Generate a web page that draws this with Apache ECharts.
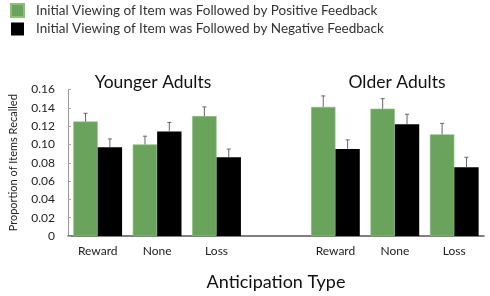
<!DOCTYPE html>
<html>
<head>
<meta charset="utf-8">
<script src="https://cdn.jsdelivr.net/npm/echarts@6/dist/echarts.min.js"></script>
<style>
  html, body { margin: 0; padding: 0; background: #fff; }
  #chart { width: 490px; height: 296px; }
</style>
</head>
<body>
<div id="chart"></div>
<script>
// categories (blank slot splits younger / older groups)
var categories = ['Reward', 'None', 'Loss', '', 'Reward', 'None', 'Loss'];
var groupTitles = ['Younger Adults', 'Older Adults'];
var yTicks = [0, 0.02, 0.04, 0.06, 0.08, 0.10, 0.12, 0.14, 0.16];

var seriesNames = [
  'Initial Viewing of Item was Followed by Positive Feedback',
  'Initial Viewing of Item was Followed by Negative Feedback'
];

// values
var positive = [0.125, 0.100, 0.131, null, 0.141, 0.139, 0.111];
var negative = [0.097, 0.114, 0.086, null, 0.095, 0.122, 0.075];
var positiveErr = [0.009, 0.009, 0.010, null, 0.012, 0.011, 0.012];
var negativeErr = [0.009, 0.010, 0.009, null, 0.010, 0.011, 0.011];

var green = '#6aa35b';
var fontFam = 'Lato, "Open Sans", sans-serif';
var barPct = 0.41;

// 误差线（只画上半部分）
function errorSeries(vals, errs, side) {
  var data = [];
  for (var i = 0; i < vals.length; i++) {
    if (vals[i] == null) continue;
    data.push([i, vals[i], vals[i] + errs[i]]);
  }
  return {
    type: 'custom',
    silent: true,
    z: 5,
    data: data,
    renderItem: function (params, api) {
      var band = api.size([1, 0])[0];
      var off = side * band * barPct / 2;
      var lo = api.coord([api.value(0), api.value(1)]);
      var hi = api.coord([api.value(0), api.value(2)]);
      var x = lo[0] + off;
      var style = { stroke: '#666', lineWidth: 1 };
      return {
        type: 'group',
        children: [
          { type: 'line', shape: { x1: x, y1: lo[1], x2: x, y2: hi[1] }, style: style },
          { type: 'line', shape: { x1: x - 2, y1: hi[1], x2: x + 2, y2: hi[1] }, style: style }
        ]
      };
    }
  };
}

var chart = echarts.init(document.getElementById('chart'), null, { renderer: 'canvas' });

var option = {
  animation: false,
  backgroundColor: '#fff',
  title: [
    { text: groupTitles[0], left: 148, top: 68, textAlign: 'center',
      textStyle: { fontFamily: fontFam, fontSize: 17.5, fontWeight: 'normal', color: '#111' } },
    { text: groupTitles[1], left: 392, top: 68, textAlign: 'center',
      textStyle: { fontFamily: fontFam, fontSize: 17.5, fontWeight: 'normal', color: '#111' } }
  ],
  legend: {
    orient: 'vertical',
    left: 5,
    top: -2,
    itemWidth: 13,
    itemHeight: 13,
    itemGap: 4,
    icon: 'rect',
    data: seriesNames,
    textStyle: { fontFamily: fontFam, fontSize: 13.5, color: '#333', padding: [0, 0, 0, 7] }
  },
  grid: { left: 57, right: 6, top: 89.5, bottom: 55.5 },
  xAxis: {
    type: 'category',
    data: categories,
    name: 'Anticipation Type',
    nameLocation: 'middle',
    nameGap: 37,
    nameTextStyle: { fontFamily: fontFam, fontSize: 18, color: '#111' },
    axisLine: { lineStyle: { color: '#555', width: 1.5 } },
    axisTick: { show: false },
    axisLabel: { fontFamily: fontFam, fontSize: 12, color: '#222', margin: 9 }
  },
  yAxis: {
    type: 'value',
    min: yTicks[0],
    max: yTicks[yTicks.length - 1],
    interval: 0.02,
    name: 'Proportion of Items Recalled',
    nameLocation: 'middle',
    nameGap: 49,
    nameTextStyle: { fontFamily: fontFam, fontSize: 11, color: '#222' },
    axisLine: { show: true, lineStyle: { color: '#999' } },
    axisTick: { show: true, inside: true, length: 3, lineStyle: { color: '#aaa' } },
    splitLine: { show: false },
    axisLabel: {
      fontFamily: fontFam, fontSize: 12, color: '#222', margin: 13,
      formatter: function (v) { return v === 0 ? '0' : v.toFixed(2); }
    }
  },
  series: [
    {
      name: seriesNames[0], type: 'bar', data: positive,
      barWidth: (barPct * 100) + '%', barGap: '0%',
      itemStyle: { color: green, borderColor: '#8cbf7c', borderWidth: 0.6 }
    },
    {
      name: seriesNames[1], type: 'bar', data: negative,
      barWidth: (barPct * 100) + '%', barGap: '0%',
      itemStyle: { color: '#000' }
    },
    errorSeries(positive, positiveErr, -1),
    errorSeries(negative, negativeErr, 1)
  ]
};

chart.setOption(option);
</script>
</body>
</html>
